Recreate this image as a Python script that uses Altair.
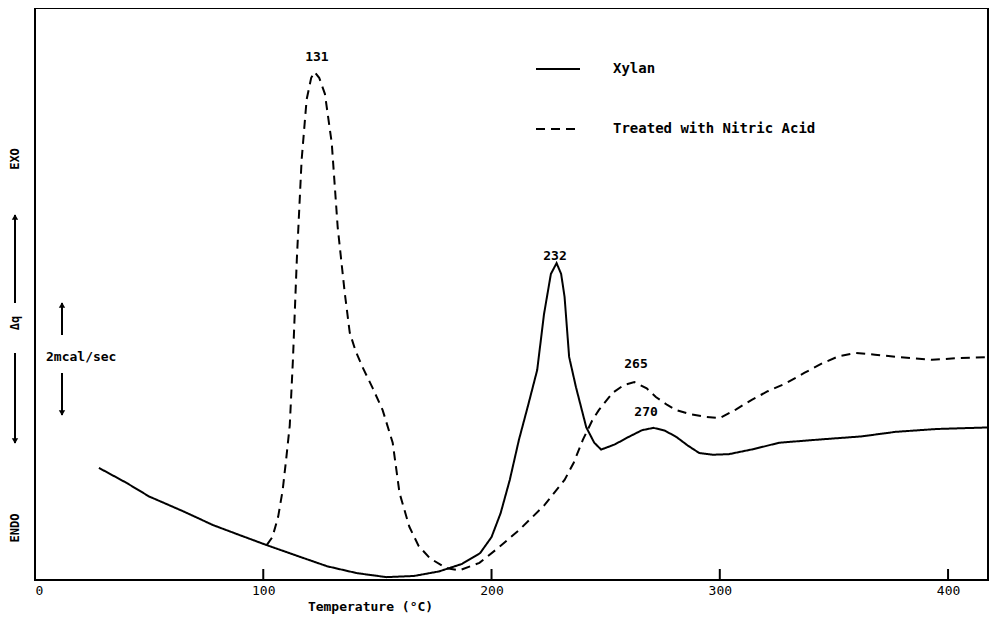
import altair as alt
import pandas as pd

# ---------------- data ----------------
xylan_t = [28, 40, 50, 65, 78, 90, 101.5, 115, 128, 141, 154, 166, 177, 187, 195,
           200, 204, 208, 212, 216, 220, 223, 226, 228.5, 230.5, 232, 234, 237,
           241.5, 245, 248, 254, 260, 266, 271, 276, 281, 286, 291, 297, 304,
           315, 326, 345, 362, 377, 395, 420]
xylan_q = [19.6, 17.0, 14.6, 12.0, 9.6, 7.8, 6.1, 4.2, 2.4, 1.2, 0.5, 0.7, 1.5,
           2.8, 4.7, 7.5, 11.7, 17.5, 24.5, 30.5, 36.7, 46.5, 53.5, 55.4, 53.5,
           49.5, 39.0, 33.7, 26.7, 24.0, 22.8, 23.7, 25.0, 26.2, 26.6, 26.1,
           25.0, 23.5, 22.2, 21.9, 22.0, 22.9, 24.0, 24.6, 25.1, 25.9, 26.4, 26.7]

treated_t = [101.5, 104, 106.5, 108.5, 110, 111.6, 113, 114.7, 116.8, 119, 121,
             122.5, 124.5, 127, 130, 132.6, 135.7, 137.9, 140.5, 143.5, 148,
             152.3, 156.7, 159.7, 164, 168, 173, 180, 186, 194.7, 203.5, 212,
             223, 232, 236, 240, 244, 247, 253, 258, 262.6, 268, 272, 277, 281,
             287, 294, 300, 307, 314, 321, 329, 337, 345, 352, 359.7, 368, 377,
             393, 405, 420]
treated_q = [6.1, 7.5, 11.0, 15.7, 21.0, 27.0, 38.5, 56.0, 73.4, 84.0, 87.8,
             88.8, 87.8, 85.0, 76.4, 61.7, 50.2, 43.2, 40.0, 37.2, 33.5, 29.7,
             24.0, 15.2, 9.3, 6.0, 3.8, 2.1, 1.7, 3.0, 5.8, 8.7, 13.0, 17.5,
             20.5, 24.5, 27.8, 29.7, 32.7, 34.1, 34.6, 33.5, 32.0, 30.6, 29.7,
             29.0, 28.5, 28.3, 29.8, 31.5, 33.0, 34.4, 36.2, 37.9, 39.1, 39.7,
             39.4, 39.0, 38.5, 38.8, 39.0]

series_names = ["Xylan", "Treated with Nitric Acid"]

peak_labels = ["131", "232", "265", "270"]
peak_t = [123.5, 227.8, 263.3, 267.7]
peak_q = [91.4, 56.6, 37.8, 29.4]

tick_values = [0, 100, 200, 300, 400]
inner_ticks = [100, 200, 300, 400]

# ---------------- tables ----------------
curves = pd.concat([
    pd.DataFrame({"t": xylan_t, "q": xylan_q, "series": series_names[0], "order": range(len(xylan_t))}),
    pd.DataFrame({"t": treated_t, "q": treated_q, "series": series_names[1], "order": range(len(treated_t))}),
])
peaks = pd.DataFrame({"t": peak_t, "q": peak_q, "label": peak_labels})
ticks = pd.DataFrame({"t": inner_ticks})

FONT = "DejaVu Sans Mono"
W, H = 953, 572

xscale = alt.Scale(domain=[0, 417.5], nice=False, zero=False)
yscale = alt.Scale(domain=[0, 100], nice=False, zero=False)

lines = alt.Chart(curves).mark_line(color="black", strokeWidth=2, strokeCap="butt", clip=True).encode(
    x=alt.X("t:Q", scale=xscale,
            axis=alt.Axis(values=tick_values, ticks=False, domain=False, grid=False,
                          labelFont=FONT, labelFontSize=13, labelColor="black",
                          labelPadding=4, title="Temperature (°C)",
                          titleFont=FONT, titleFontSize=13, titleFontWeight="bold",
                          titleColor="black", titleX=335, titleY=20)),
    y=alt.Y("q:Q", scale=yscale, axis=None),
    strokeDash=alt.StrokeDash(
        "series:N",
        scale=alt.Scale(domain=series_names, range=[[1, 0], [9, 6]]),
        legend=alt.Legend(title=None, orient="none", legendX=500, legendY=38,
                          symbolType="stroke", symbolSize=1936, symbolStrokeWidth=2,
                          symbolStrokeColor="black", labelFont=FONT, labelFontSize=14,
                          labelFontWeight="bold", labelColor="black", labelOffset=32,
                          labelLimit=400, rowPadding=30),
    ),
    order="order:Q",
)

peak_text = alt.Chart(peaks).mark_text(font=FONT, fontSize=13, fontWeight="bold", color="black",
                                       baseline="middle", align="center").encode(
    x=alt.X("t:Q", scale=xscale), y=alt.Y("q:Q", scale=yscale), text="label:N")

tick_rules = alt.Chart(ticks).mark_rule(color="black", strokeWidth=2).encode(
    x=alt.X("t:Q", scale=xscale), y=alt.value(H), y2=alt.value(H - 11))

# left-side annotations (outside the frame)
side_labels = pd.DataFrame({"txt": ["EXO", "Δq", "ENDO"], "py": [151, 315, 520]})
side_text = alt.Chart(side_labels).mark_text(font=FONT, fontSize=12, fontWeight="bold",
                                             color="black", angle=270, baseline="middle",
                                             align="center").encode(
    x=alt.value(-20), y=alt.Y("py:Q", scale=None), text="txt:N")

arrow_lines = pd.DataFrame({"px": [-20, -20, 27, 27], "y1": [207, 345, 295, 365], "y2": [295, 435, 327, 407]})
arrows = alt.Chart(arrow_lines).mark_rule(color="black", strokeWidth=2).encode(
    x=alt.X("px:Q", scale=None), y=alt.Y("y1:Q", scale=None), y2="y2:Q")

heads = pd.DataFrame({"px": [-20, -20, 27, 27], "py": [209, 433, 297, 405],
                      "shape": ["triangle-up", "triangle-down", "triangle-up", "triangle-down"]})
arrow_heads = alt.Chart(heads).mark_point(filled=True, color="black", size=40, opacity=1).encode(
    x=alt.X("px:Q", scale=None), y=alt.Y("py:Q", scale=None),
    shape=alt.Shape("shape:N", scale=None, legend=None))

scale_label = alt.Chart(pd.DataFrame({"txt": ["2mcal/sec"]})).mark_text(
    font=FONT, fontSize=13, fontWeight="bold", color="black", align="left", baseline="middle").encode(
    x=alt.value(11), y=alt.value(349), text="txt:N")

chart = alt.layer(lines, peak_text, tick_rules, side_text, arrows, arrow_heads, scale_label).properties(
    width=W, height=H,
    autosize=alt.AutoSizeParams(type="none"),
    padding={"left": 27, "top": 0, "right": 1, "bottom": 34},
    background="white",
).configure_view(stroke="black", strokeWidth=2)

chart.save("out.html", embed_options={"renderer": "svg", "actions": False})
